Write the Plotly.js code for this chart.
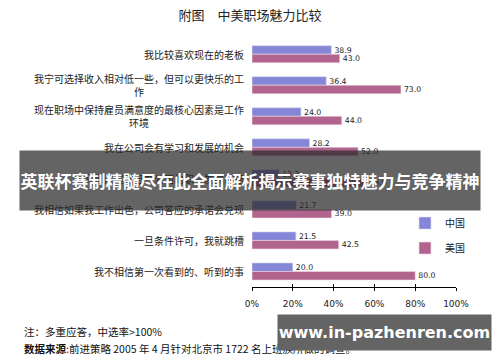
<!DOCTYPE html>
<html>
<head>
<meta charset="utf-8">
<script src="https://cdn.plot.ly/plotly-3.0.1.min.js"></script>
<style>html,body{margin:0;padding:0;background:#fff;}#chart{width:500px;height:362px;}</style>
</head>
<body>
<div id="chart"></div>
<script>
// Categories (top to bottom)
const categories = [
  "我比较喜欢现在的老板",
  "我宁可选择收入相对低一些，但可以更快乐的工<br>作",
  "现在职场中保持雇员满意度的最核心因素是工作<br>环境",
  "我在公司会有学习和发展的机会",
  "我很清楚自己在公司的职业发展目标",
  "我相信如果我工作出色，公司答应的承诺会兑现",
  "一旦条件许可，我就跳槽",
  "我不相信第一次看到的、听到的事"
];
const catKeys = ["c1","c2","c3","c4","c5","c6","c7","c8"];
const chinaValues = [38.9, 36.4, 24.0, 28.2, 13.3, 21.7, 21.5, 20.0];
const usaValues   = [43.0, 73.0, 44.0, 52.0, 56.0, 39.0, 42.5, 80.0];
const seriesNames = ["中国", "美国"];
const tickVals = [0, 20, 40, 60, 80, 100];
const tickText = ["0%", "20%", "40%", "60%", "80%", "100%"];
const titleText = "附图　中美职场魅力比较";
const noteLine1 = "注：多重应答，中选率>100%";
const noteLine2 = "<b>数据来源</b>:前进策略 2005 年 4 月针对北京市 1722 名上班族所做的调查。";
const bannerText1 = "英联杯赛制精髓尽在此全面解析揭示赛事独特魅力与竞争精神";
const bannerText2 = "www.in-pazhenren.com";

const cjk = '"Noto Sans CJK SC", "Noto Sans", sans-serif';

const traces = [
  {
    type: 'bar', orientation: 'h', name: seriesNames[0],
    y: catKeys, x: chinaValues, legendgroup: 'a',
    marker: {color: '#8686d8', line: {color: '#d8d8f0', width: 0.6}},
    texttemplate: '%{x:.1f}', textposition: 'outside', cliponaxis: false,
    textfont: {family: '"DejaVu Sans", sans-serif', size: 10, color: '#222'},
    hoverinfo: 'skip'
  },
  {
    type: 'bar', orientation: 'h', name: seriesNames[1],
    y: catKeys, x: usaValues, legendgroup: 'b',
    marker: {color: '#b0648e', line: {color: '#f0d8e4', width: 0.6}},
    texttemplate: '%{x:.1f}', textposition: 'outside', cliponaxis: false,
    textfont: {family: '"DejaVu Sans", sans-serif', size: 10, color: '#222'},
    hoverinfo: 'skip'
  },
  // invisible helper trace so the inward tick marks axis is drawn
  {
    type: 'scatter', mode: 'markers', x: [tickVals[0]], y: [catKeys[0]], xaxis: 'x2',
    marker: {opacity: 0}, showlegend: false, hoverinfo: 'skip'
  }
];

const annotations = categories.map((c, i) => ({
  xref: 'paper', yref: 'y', x: 0, y: catKeys[i], xshift: -6,
  xanchor: 'right', yanchor: 'middle', align: 'center',
  text: c, showarrow: false,
  font: {family: cjk, size: 10, color: '#222'}
}));

annotations.push(
  {xref: 'paper', yref: 'paper', x: -1.127, y: -0.179, xanchor: 'left', yanchor: 'middle',
   text: noteLine1, showarrow: false, font: {family: cjk, size: 10.5, color: '#111'}},
  {xref: 'paper', yref: 'paper', x: -1.127, y: -0.247, xanchor: 'left', yanchor: 'middle',
   text: noteLine2, showarrow: false, font: {family: cjk, size: 10.5, color: '#111'}},
  {xref: 'paper', yref: 'paper', x: -0.0098, y: 0.426, xanchor: 'center', yanchor: 'middle',
   text: '<b>' + bannerText1 + '</b>', showarrow: false, width: 460, height: 59,
   bgcolor: 'rgba(40,40,40,0.72)', borderpad: 0,
   font: {family: cjk, size: 17, color: '#ffffff'}},
  {xref: 'paper', yref: 'paper', x: 0.65, y: -0.181, xanchor: 'center', yanchor: 'middle',
   text: '<b>' + bannerText2 + '</b>', showarrow: false, width: 213, height: 35,
   bgcolor: 'rgba(100,100,100,1)', borderpad: 0,
   font: {family: '"DejaVu Sans", sans-serif', size: 16, color: '#ffffff'}}
);

const layout = {
  width: 500, height: 362,
  margin: {l: 252, r: 44, t: 38, b: 75, pad: 0},
  paper_bgcolor: '#ffffff', plot_bgcolor: '#ffffff',
  title: {text: titleText, x: 0.5, xref: 'container', xanchor: 'center', y: 0.958, yanchor: 'middle',
          font: {family: cjk, size: 13, color: '#222'}},
  barmode: 'group', bargap: 0.45, bargroupgap: 0,
  showlegend: true,
  legend: {x: 0.75, y: 0.315, xanchor: 'left', yanchor: 'top', tracegroupgap: 6,
           font: {family: cjk, size: 10, color: '#222'}, bgcolor: 'rgba(0,0,0,0)'},
  xaxis: {range: [0, 100], tickvals: tickVals, ticktext: tickText, showgrid: false, zeroline: false,
          showline: true, linecolor: '#000', linewidth: 1, ticks: 'outside', ticklen: 3,
          tickcolor: '#000', ticklabelstandoff: 5,
          tickfont: {family: '"DejaVu Sans", sans-serif', size: 9, color: '#222'}},
  xaxis2: {overlaying: 'x', side: 'bottom', range: [0, 100], tickvals: tickVals, showticklabels: false,
           showgrid: false, zeroline: false, showline: false, ticks: 'inside', ticklen: 3,
           tickcolor: '#000'},
  yaxis: {type: 'category', autorange: 'reversed', showticklabels: false, showgrid: false,
          zeroline: false, showline: false, ticks: ''},
  annotations: annotations
};

Plotly.newPlot('chart', traces, layout, {staticPlot: true, displayModeBar: false});
</script>
</body>
</html>
